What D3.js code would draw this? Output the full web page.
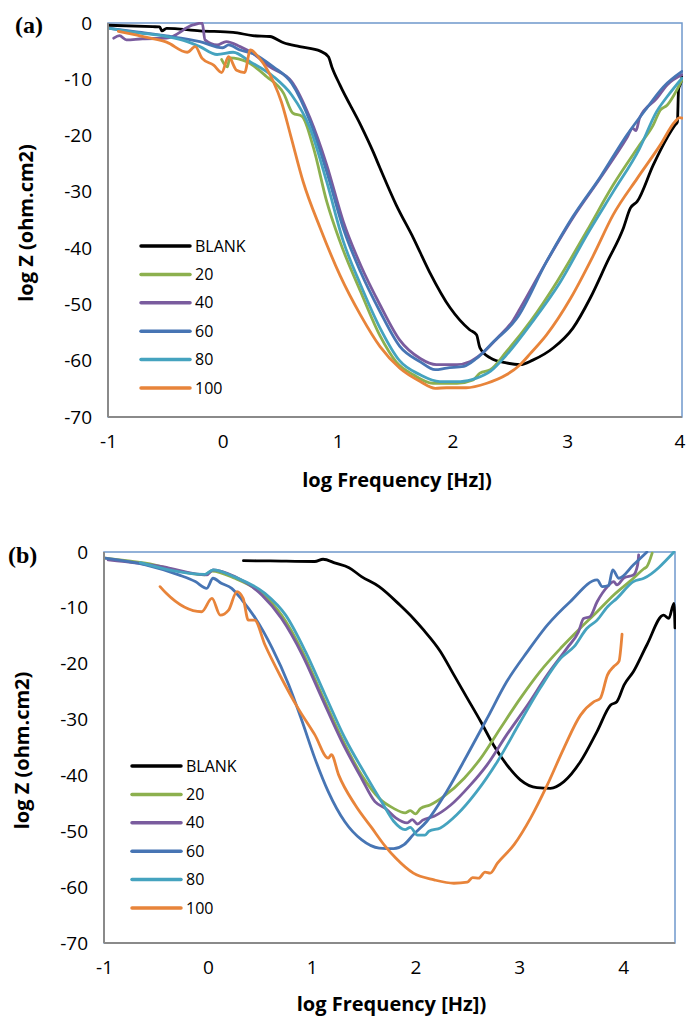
<!DOCTYPE html>
<html>
<head>
<meta charset="utf-8">
<script src="https://cdn.jsdelivr.net/npm/d3@7"></script>
<style>
  html, body { margin: 0; padding: 0; background: #ffffff; }
  svg { display: block; }
</style>
</head>
<body>
<svg id="chart" width="686" height="1016"></svg>
<script>
// Series names shown in the legends
const seriesNames = ["BLANK", "20", "40", "60", "80", "100"];
const seriesColors = ["#000000", "#8cb04e", "#7a5c9e", "#4775b4", "#45a3bf", "#e8843a"];

// Axis ticks
const xTicks = [-1, 0, 1, 2, 3, 4];
const yTicks = [0, -10, -20, -30, -40, -50, -60, -70];

// Panel (a): [log frequency, log Z]
const aBlank = [[-1,-0.4],[-0.61,-0.65],[-0.55,-0.7],[-0.53,-1.4],[-0.49,-0.95],[-0.2,-1.4],[0.09,-1.65],[0.26,-2.25],[0.41,-2.4],[0.53,-3.5],[0.67,-4.2],[0.85,-5.0],[0.92,-6.0],[0.95,-7.8],[1.02,-11],[1.2,-18.1],[1.31,-22.9],[1.37,-25.8],[1.51,-32.3],[1.66,-38.2],[1.8,-44.2],[1.98,-50.6],[2.15,-54.5],[2.21,-55.4],[2.24,-57.7],[2.33,-59.5],[2.47,-60.4],[2.59,-60.7],[2.7,-59.9],[2.88,-57.7],[3.05,-54.2],[3.2,-48.9],[3.35,-42.4],[3.49,-36.4],[3.55,-32.9],[3.61,-31.7],[3.75,-25.2],[3.87,-20.4],[3.94,-18.1],[3.96,-17.6],[3.97,-11.8],[3.99,-10.6],[4.0,-9.6]];
const a20 = [[-0.01,-6.5],[0.04,-7.8],[0.06,-6.2],[0.21,-6.9],[0.38,-9.5],[0.53,-12.5],[0.61,-16],[0.69,-16.6],[0.79,-22.2],[0.905,-31.7],[1.02,-38.8],[1.2,-47.7],[1.37,-55.6],[1.51,-60.2],[1.66,-62.5],[1.83,-64],[2.04,-64],[2.18,-63.4],[2.24,-62.2],[2.33,-61.6],[2.47,-58.4],[2.68,-53],[2.91,-46],[3.17,-37],[3.4,-28.8],[3.63,-21.7],[3.75,-18.1],[3.81,-15.5],[3.87,-14.6],[4.0,-10.1]];
const a40 = [[-0.95,-2.7],[-0.9,-2.25],[-0.84,-3.0],[-0.7,-2.8],[-0.49,-2.7],[-0.26,-0.35],[-0.18,0],[-0.155,-3.0],[-0.05,-3.9],[0.03,-3.3],[0.15,-4.2],[0.26,-5.4],[0.41,-7.8],[0.6,-10.4],[0.76,-16.9],[0.905,-25.2],[1.05,-35.3],[1.2,-43],[1.37,-50.1],[1.54,-56.3],[1.72,-59.6],[1.86,-60.7],[2.04,-60.7],[2.15,-60.2],[2.24,-59],[2.39,-56],[2.53,-52.8],[2.59,-50.7],[2.82,-42.4],[3.05,-34.6],[3.29,-27.5],[3.52,-20.4],[3.57,-18.7],[3.6,-19.1],[3.63,-16.9],[3.78,-13.4],[3.87,-11],[4.0,-9.2]];
const a60 = [[-1,-0.9],[-0.75,-1.6],[-0.49,-2.3],[-0.2,-3.3],[0.0,-4.4],[0.05,-3.9],[0.15,-4.8],[0.26,-5.4],[0.44,-7.8],[0.6,-10.7],[0.76,-17.5],[0.905,-26.4],[1.05,-36.5],[1.2,-44.2],[1.37,-51.3],[1.54,-57.4],[1.72,-60.2],[1.85,-61.6],[1.95,-61.3],[2.1,-61],[2.21,-59.6],[2.36,-56.6],[2.56,-52.5],[2.82,-42.4],[3.05,-34.4],[3.29,-27.3],[3.52,-19.9],[3.69,-15.2],[3.84,-11.3],[4.0,-8.6]];
const a80 = [[-1,-0.9],[-0.75,-1.7],[-0.49,-2.4],[-0.31,-3.3],[-0.2,-4.2],[-0.05,-5.6],[0.09,-5.2],[0.24,-6.9],[0.44,-9.5],[0.6,-12.8],[0.76,-18.7],[0.905,-28.2],[1.05,-38.8],[1.2,-46.5],[1.37,-54.2],[1.54,-60],[1.72,-62.5],[1.89,-63.7],[2.07,-63.7],[2.21,-63.1],[2.33,-61.9],[2.47,-59],[2.7,-53],[2.94,-46],[3.17,-37.7],[3.4,-30],[3.63,-22.3],[3.78,-15.7],[3.87,-13.1],[4.0,-9.8]];
const a100 = [[-0.91,-1.5],[-0.63,-2.7],[-0.49,-3.4],[-0.31,-5.2],[-0.24,-4.2],[-0.18,-6.3],[-0.08,-7.5],[-0.01,-8.8],[0.05,-6.0],[0.12,-8.4],[0.19,-8.8],[0.24,-4.8],[0.32,-6.3],[0.44,-10.4],[0.51,-14],[0.59,-19.9],[0.7,-28.2],[0.85,-36.5],[1.02,-44.8],[1.2,-51.9],[1.37,-57.5],[1.54,-61.3],[1.72,-63.7],[1.85,-64.9],[1.95,-64.8],[2.12,-64.8],[2.3,-64],[2.47,-62.5],[2.59,-60.7],[2.68,-58.7],[2.82,-55.4],[3.03,-48.9],[3.23,-41.2],[3.4,-34.1],[3.61,-27.6],[3.81,-21.7],[3.94,-17.5],[3.98,-16.8],[4.0,-16.9]];

// Panel (b): [log frequency, log Z]
const bBlank = [[0.343,-1.55],[0.6,-1.6],[1.03,-1.7],[1.11,-1.3],[1.23,-2.0],[1.36,-2.8],[1.48,-4.4],[1.65,-6.2],[1.85,-9.5],[1.98,-11.9],[2.08,-14],[2.24,-17.8],[2.37,-22],[2.5,-26.2],[2.63,-30.4],[2.75,-34.5],[2.88,-38.1],[3.01,-40.8],[3.17,-42.2],[3.3,-42.3],[3.43,-41.1],[3.59,-37.5],[3.75,-32.1],[3.88,-27.4],[3.94,-26.8],[4.01,-23.8],[4.1,-21.4],[4.23,-16.6],[4.39,-11.3],[4.44,-11.9],[4.49,-9.2],[4.5,-13.6]];
const b20 = [[-0.99,-1.1],[-0.6,-2.0],[-0.03,-4.1],[0.04,-3.4],[0.26,-4.7],[0.52,-7.4],[0.71,-11.3],[0.91,-17.8],[1.1,-25.6],[1.29,-33.3],[1.48,-39.9],[1.65,-44.1],[1.79,-45.9],[1.9,-46.7],[1.95,-46.3],[2.0,-46.9],[2.05,-45.9],[2.14,-45.3],[2.27,-43.8],[2.47,-40.5],[2.63,-36.9],[2.82,-31.5],[3.01,-26.2],[3.2,-21.4],[3.4,-17.2],[3.59,-13.6],[3.75,-10.7],[3.91,-7.7],[4.1,-4.7],[4.2,-3.0],[4.23,-2.6],[4.28,-0.2]];
const b40 = [[-0.96,-1.4],[-0.44,-2.6],[-0.01,-4.1],[0.05,-3.2],[0.26,-4.4],[0.52,-7.7],[0.71,-11.9],[0.91,-18.4],[1.1,-26.2],[1.29,-33.9],[1.48,-40.5],[1.61,-44.7],[1.71,-45.9],[1.81,-47.6],[1.92,-48.5],[1.97,-47.9],[2.02,-48.7],[2.07,-48.0],[2.18,-47.3],[2.34,-45.3],[2.53,-41.7],[2.69,-38.1],[2.88,-32.7],[3.08,-27.4],[3.27,-22],[3.46,-17.2],[3.57,-14.3],[3.62,-11.9],[3.68,-11.6],[3.75,-8.9],[3.85,-6.2],[3.91,-5.3],[3.94,-5.9],[4.01,-4.6],[4.1,-4.1],[4.14,-2.3],[4.15,-0.5]];
const b60 = [[-0.99,-1.1],[-0.6,-2.3],[-0.28,-4.1],[-0.12,-5.3],[-0.01,-6.5],[0.05,-4.7],[0.13,-5.6],[0.23,-6.5],[0.33,-8.6],[0.46,-11.9],[0.62,-17.2],[0.78,-23.8],[0.91,-30.4],[1.03,-36.9],[1.16,-42.9],[1.32,-48.3],[1.48,-51.5],[1.65,-53.0],[1.79,-53.1],[1.89,-52.4],[1.98,-50.6],[2.11,-48.2],[2.3,-42.9],[2.5,-36.3],[2.69,-29.8],[2.88,-23.2],[3.08,-17.8],[3.27,-13.1],[3.49,-8.9],[3.75,-5.0],[3.8,-6.2],[3.86,-6.0],[3.9,-3.2],[3.96,-4.7],[4.1,-2.3],[4.23,0]];
const b80 = [[-0.65,-1.9],[-0.03,-4.0],[0.05,-3.2],[0.26,-4.5],[0.55,-7.4],[0.75,-11.3],[0.94,-17.8],[1.13,-25.6],[1.32,-33.3],[1.52,-39.9],[1.68,-44.9],[1.79,-48.2],[1.9,-49.7],[1.95,-49.3],[2.02,-50.7],[2.09,-50.7],[2.13,-50.0],[2.24,-49.4],[2.4,-47.0],[2.59,-42.9],[2.79,-37.5],[3.01,-30.4],[3.2,-24.4],[3.4,-19.0],[3.53,-16.9],[3.65,-13.7],[3.75,-12.2],[3.85,-9.8],[3.94,-8.3],[4.1,-5.3],[4.2,-4.7],[4.49,0]];
const b100 = [[-0.46,-6.2],[-0.4,-7.4],[-0.06,-10.7],[0.04,-8.3],[0.12,-11.3],[0.2,-10.4],[0.28,-7.1],[0.34,-8.3],[0.39,-12.2],[0.45,-12.2],[0.55,-16.6],[0.71,-22.6],[0.87,-28.0],[1.03,-32.7],[1.16,-36.9],[1.19,-36.3],[1.26,-39.9],[1.42,-45.3],[1.58,-49.4],[1.71,-52.7],[1.81,-54.8],[1.98,-57.5],[2.18,-58.7],[2.37,-59.3],[2.5,-59.1],[2.55,-58.3],[2.61,-58.4],[2.67,-57.3],[2.72,-57.5],[2.79,-55.7],[2.95,-52.4],[3.11,-47.6],[3.27,-41.7],[3.43,-35.1],[3.59,-29.2],[3.72,-26.8],[3.78,-26.2],[3.85,-22],[3.91,-20.5],[3.96,-19.6],[3.99,-14.7]];

const panels = [
  { tag: "(a)", left: 108, top: 23, right: 682, bottom: 417, xMax: 4,
    series: [aBlank, a20, a40, a60, a80, a100],
    legendX: 141, legendY: 246, labelY: 33, tagX: 15, yTitleX: 33, xTitleY: 487 },
  { tag: "(b)", left: 104, top: 552, right: 675, bottom: 943, xMax: 4.5,
    series: [bBlank, b20, b40, b60, b80, b100],
    legendX: 132, legendY: 766, labelY: 563, tagX: 8, yTitleX: 29, xTitleY: 1011 }
];

const svg = d3.select("#chart");
const W = +svg.attr("width");
const font = "'Open Sans', 'Liberation Sans', sans-serif";
const plain = d => String(d);   // hyphen-minus, no decimals

panels.forEach((p, pi) => {
  const x = d3.scaleLinear().domain([-1, p.xMax]).range([p.left, p.right]);
  const y = d3.scaleLinear().domain([-70, 0]).range([p.bottom, p.top]);
  const g = svg.append("g");

  // plot-area frame
  g.append("rect")
    .attr("x", p.left).attr("y", p.top)
    .attr("width", p.right - p.left).attr("height", p.bottom - p.top)
    .attr("fill", "none").attr("stroke", "#6f98cc").attr("stroke-width", 1.5);

  const clipId = "clip" + pi;
  g.append("clipPath").attr("id", clipId)
    .append("rect").attr("x", p.left).attr("y", p.top - 1)
    .attr("width", p.right - p.left + 1).attr("height", p.bottom - p.top + 1);

  const line = d3.line()
    .x(d => x(d[0])).y(d => y(d[1]))
    .curve(d3.curveMonotoneX);

  g.append("g").attr("clip-path", `url(#${clipId})`)
    .selectAll("path").data(p.series).join("path")
    .attr("d", line)
    .attr("fill", "none")
    .attr("stroke", (d, i) => seriesColors[i])
    .attr("stroke-width", 2.8)
    .attr("stroke-linejoin", "round")
    .attr("stroke-linecap", "round");

  // axes
  const yAxis = d3.axisLeft(y).tickValues(yTicks).tickFormat(plain).tickSize(0).tickPadding(16);
  const yg = g.append("g").attr("transform", `translate(${p.left},0)`).call(yAxis);
  yg.select(".domain").remove();
  yg.selectAll("text").attr("font-family", font).attr("font-size", 19).attr("fill", "#000");

  const xAxis = d3.axisBottom(x).tickValues(xTicks).tickFormat(plain).tickSize(0).tickPadding(18);
  const xg = g.append("g").attr("transform", `translate(0,${p.bottom})`).call(xAxis);
  xg.select(".domain").remove();
  xg.selectAll("text").attr("font-family", font).attr("font-size", 19).attr("fill", "#000");
  // keep a tick label that sits on the page edge fully inside it
  xg.selectAll("text").each(function () {
    const b = this.getBBox();
    const tx = x(+d3.select(this.parentNode).datum());
    const overflow = tx + b.x + b.width - (W - 1);
    if (overflow > 0) d3.select(this).attr("dx", -overflow);
  });

  // axis lines
  g.append("line").attr("x1", p.left).attr("x2", p.left).attr("y1", p.top).attr("y2", p.bottom)
    .attr("stroke", "#8a8a8a").attr("stroke-width", 2);
  g.append("line").attr("x1", p.left).attr("x2", p.right).attr("y1", p.bottom).attr("y2", p.bottom)
    .attr("stroke", "#8a8a8a").attr("stroke-width", 2);

  // axis titles
  g.append("text")
    .attr("transform", `translate(${p.yTitleX},${(p.top + p.bottom) / 2 + 3}) rotate(-90)`)
    .attr("text-anchor", "middle")
    .attr("font-family", font).attr("font-weight", "bold").attr("font-size", 20)
    .text("log Z (ohm.cm2)");
  g.append("text")
    .attr("x", (p.left + p.right) / 2 + 2).attr("y", p.xTitleY)
    .attr("text-anchor", "middle")
    .attr("font-family", font).attr("font-weight", "bold").attr("font-size", 20)
    .text("log Frequency [Hz])");

  // panel tag
  g.append("text")
    .attr("x", p.tagX).attr("y", p.labelY)
    .attr("font-family", "'Liberation Serif', 'DejaVu Serif', serif")
    .attr("font-weight", "bold").attr("font-size", 24)
    .text(p.tag);

  // legend
  const lg = g.append("g").selectAll("g").data(seriesNames).join("g")
    .attr("transform", (d, i) => `translate(${p.legendX},${p.legendY + i * 28.4})`);
  lg.append("line").attr("x1", 0).attr("x2", 49).attr("y1", 0).attr("y2", 0)
    .attr("stroke", (d, i) => seriesColors[i]).attr("stroke-width", 3.5)
    .attr("stroke-linecap", "round");
  lg.append("text").attr("x", 54).attr("y", 0).attr("dy", "0.35em")
    .attr("font-family", font).attr("font-size", 16).attr("fill", "#000")
    .text(d => d);
});
</script>
</body>
</html>
